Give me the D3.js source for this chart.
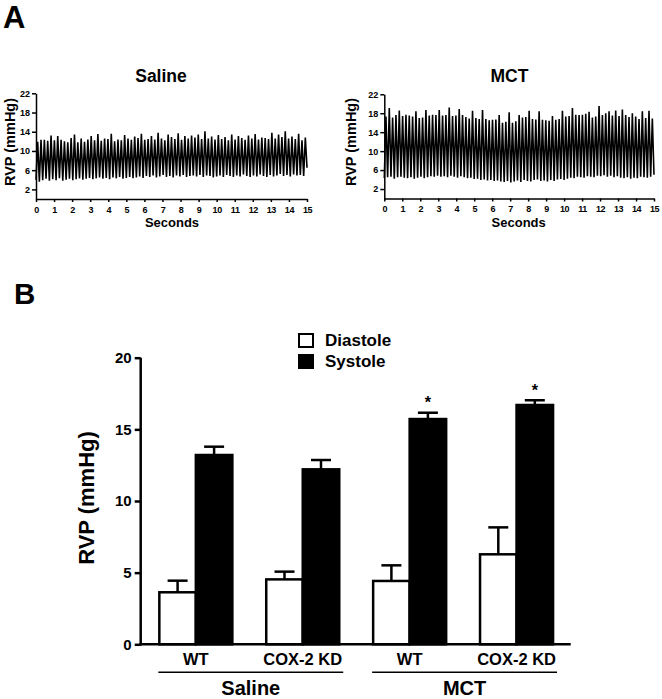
<!DOCTYPE html>
<html>
<head>
<meta charset="utf-8">
<script src="https://cdn.jsdelivr.net/npm/d3@7"></script>
<style>
  html, body { margin: 0; padding: 0; background: #fff; }
  svg { display: block; font-family: "Liberation Sans", Arial, Helvetica, sans-serif; font-weight: bold; }
</style>
</head>
<body>
<svg id="chart" width="662" height="699"></svg>
<script>
// ---------------- Panel A data: beat-by-beat RVP trace (mmHg) ----------------
const traceSeconds = [0, 15];
const traceTicksX = [0,1,2,3,4,5,6,7,8,9,10,11,12,13,14,15];
const traceTicksY = [2, 6, 10, 14, 18, 22];

// systolic peaks of each beat (Saline)
const salinePeaks = [
  11.9, 12.3, 12.3, 12.1, 13.2, 12.2, 13.1, 12.3, 12.0, 11.8, 12.7, 13.4, 11.8, 12.6, 11.9, 12.4,
  13.1, 12.2, 13.5, 12.1, 12.6, 12.5, 13.6, 12.0, 12.4, 12.2, 13.3, 12.6, 12.3, 13.0, 12.7, 13.6,
  12.3, 12.5, 13.1, 12.4, 13.8, 12.6, 12.2, 13.4, 12.9, 12.5, 13.7, 12.3, 13.1, 12.6, 13.2, 12.8,
  13.4, 12.5, 14.1, 12.6, 13.0, 12.4, 13.3, 12.5, 12.9, 12.2, 13.4, 12.4, 13.1, 12.7, 12.3, 13.2,
  12.6, 13.5, 12.4, 12.8, 12.7, 12.5, 13.8, 12.6, 13.4, 12.9, 14.1, 12.6, 13.0, 12.5, 13.6, 12.2, 12.8
];
// diastolic troughs of each beat (Saline), last value = end of record
const salineTroughs = [
  4.0, 3.6, 3.9, 4.2, 3.8, 4.1, 3.9, 4.3, 3.8, 4.0, 4.2, 3.9, 4.1, 4.3, 4.0, 4.2,
  4.4, 4.1, 4.3, 4.5, 4.2, 4.4, 4.1, 4.5, 4.3, 4.6, 4.2, 4.4, 4.6, 4.3, 4.5, 4.7,
  4.4, 4.8, 4.6, 4.9, 4.5, 4.7, 5.0, 4.6, 4.8, 4.5, 4.9, 4.7, 5.0, 4.6, 4.8, 4.9,
  4.7, 5.0, 4.6, 4.9, 4.8, 4.5, 4.7, 4.9, 4.6, 5.0, 4.8, 4.6, 4.9, 4.7, 5.1, 4.8,
  4.6, 4.9, 4.7, 5.1, 4.8, 4.6, 5.0, 4.7, 4.9, 5.2, 4.8, 5.0, 4.7, 5.1, 4.9, 5.0, 4.8, 6.5
];
// systolic peaks of each beat (MCT)
const mctPeaks = [
  17.3, 19.1, 17.1, 17.6, 18.6, 17.4, 17.7, 17.5, 17.3, 18.4, 17.0, 17.1, 18.7, 17.5, 17.7, 17.6,
  18.7, 17.5, 17.6, 19.2, 17.4, 17.5, 18.9, 17.6, 17.2, 16.9, 18.5, 17.0, 16.8, 18.7, 16.8, 16.5,
  16.6, 16.7, 17.6, 16.0, 16.2, 18.2, 16.0, 16.3, 17.6, 17.1, 17.2, 18.5, 16.8, 16.7, 18.4, 16.6,
  16.5, 16.4, 17.4, 16.6, 16.8, 18.5, 17.3, 17.4, 19.1, 17.7, 17.6, 17.7, 17.9, 18.3, 17.1, 17.3,
  19.5, 17.6, 18.0, 18.4, 17.5, 18.6, 17.4, 18.8, 17.6, 17.2, 18.0, 17.3, 16.8, 18.4, 17.0, 18.5, 16.9
];
// diastolic troughs of each beat (MCT), last value = end of record
const mctTroughs = [
  4.3, 4.5, 4.6, 4.2, 4.5, 4.6, 4.4, 4.3, 4.5, 4.2, 4.4, 4.6, 4.3, 4.5, 4.7, 4.6,
  4.8, 4.6, 4.7, 4.5, 4.8, 4.6, 4.4, 4.7, 4.5, 4.3, 4.4, 4.1, 4.2, 3.9, 4.0, 3.8,
  3.9, 3.7, 3.8, 3.6, 3.5, 3.7, 3.4, 3.6, 3.8, 3.5, 3.9, 3.7, 3.6, 3.9, 4.0, 3.7,
  3.8, 3.6, 3.9, 3.7, 4.0, 4.1, 3.9, 4.2, 4.4, 4.3, 4.6, 4.5, 4.4, 4.7, 4.6, 4.5,
  4.8, 4.7, 4.9, 4.6, 4.8, 4.5, 4.7, 4.4, 4.3, 4.5, 4.2, 4.4, 4.3, 4.6, 4.5, 4.4, 4.6, 5.0
];

// ---------------- Panel B data ----------------
const genotypes = ["WT", "COX-2 KD", "WT", "COX-2 KD"];
const treatments = ["Saline", "MCT"];
const treatmentOfBar = ["Saline", "Saline", "MCT", "MCT"];
const diastoleMean = [3.63, 4.53, 4.42, 6.28];
const diastoleSEM  = [0.81, 0.54, 1.09, 1.88];
const systoleMean  = [13.21, 12.21, 15.72, 16.70];
const systoleSEM   = [0.58, 0.65, 0.44, 0.33];
const systoleSignificant = [false, false, true, true];
const barTicksY = [0, 5, 10, 15, 20];
const legendLabels = ["Diastole", "Systole"];

const svg = d3.select("#chart");
const FONT = '"Liberation Sans", Arial, sans-serif';

// ---------------- Panel A ----------------
svg.append("text").attr("x", 3).attr("y", 28).attr("font-size", 31).text("A");

function tracePanel(cfg) {
  const x = d3.scaleLinear().domain(traceSeconds).range([cfg.x0, cfg.x1]);
  const y = d3.scaleLinear().domain([0, 22]).range([cfg.y0, cfg.y1]);
  const n = cfg.peaks.length;
  const period = (traceSeconds[1] - traceSeconds[0]) / n;
  const pts = [];
  for (let i = 0; i < n; i++) {
    pts.push([i * period, cfg.troughs[i]]);
    pts.push([(i + 0.5) * period, cfg.peaks[i]]);
  }
  pts.push([n * period, cfg.troughs[n]]);
  const g = svg.append("g");
  g.append("path")
    .datum(pts)
    .attr("fill", "none")
    .attr("stroke", "#000")
    .attr("stroke-width", 1.6)
    .attr("stroke-linejoin", "miter")
    .attr("d", d3.line().x(d => x(d[0])).y(d => y(d[1])));

  const ax = g.append("g").attr("transform", `translate(0,${cfg.y0})`)
    .call(d3.axisBottom(x).tickValues(traceTicksX).tickSize(3).tickSizeOuter(0).tickPadding(2));
  const ay = g.append("g").attr("transform", `translate(${cfg.x0},0)`)
    .call(d3.axisLeft(y).tickValues(traceTicksY).tickSize(4).tickSizeOuter(0).tickPadding(2));
  [ax, ay].forEach(a => {
    a.selectAll("path,line").attr("stroke", "#000").attr("stroke-width", 1.5);
    a.selectAll("text").attr("font-size", 9).attr("font-weight", "bold")
      .attr("font-family", FONT).attr("fill", "#000");
  });
  ax.selectAll("text").attr("dy", null).attr("y", 13.5).attr("letter-spacing", -0.4);

  g.append("text").attr("x", cfg.titleX).attr("y", 81.7).attr("text-anchor", "middle")
    .attr("font-size", 17.5).text(cfg.title);
  g.append("text").attr("x", cfg.secX).attr("y", 227).attr("text-anchor", "middle")
    .attr("font-size", 13).text("Seconds");
  g.append("text").attr("transform", `translate(${cfg.labX},142) rotate(-90)`)
    .attr("text-anchor", "middle").attr("font-size", 14.5).text("RVP (mmHg)");
}

tracePanel({ title: "Saline", peaks: salinePeaks, troughs: salineTroughs,
  x0: 36, x1: 307, y0: 199, y1: 93.3, titleX: 161, secX: 172, labX: 14.5 });
tracePanel({ title: "MCT", peaks: mctPeaks, troughs: mctTroughs,
  x0: 384.3, x1: 654, y0: 198.5, y1: 94.3, titleX: 509.5, secX: 518.7, labX: 356 });

// ---------------- Panel B ----------------
svg.append("text").attr("x", 14).attr("y", 304).attr("font-size", 29.5).text("B");

const bx0 = 140.7, bx1 = 570.7;
const yB = d3.scaleLinear().domain([0, 20]).range([644.3, 357.7]);
const xB = d3.scaleBand().domain(d3.range(genotypes.length)).range([bx0 + 1, bx1])
  .paddingInner(0.317).paddingOuter(0.165);
const half = xB.bandwidth() / 2;

const bars = svg.append("g");
const series = [
  { mean: diastoleMean, sem: diastoleSEM, fill: "#fff", off: 0 },
  { mean: systoleMean, sem: systoleSEM, fill: "#000", off: half }
];
series.forEach(s => {
  const gs = bars.append("g");
  gs.selectAll("line.err").data(s.mean).join("line")
    .attr("x1", (d, i) => xB(i) + s.off + half / 2)
    .attr("x2", (d, i) => xB(i) + s.off + half / 2)
    .attr("y1", d => yB(d))
    .attr("y2", (d, i) => yB(d + s.sem[i]))
    .attr("stroke", "#000").attr("stroke-width", 2.5);
  gs.selectAll("line.cap").data(s.mean).join("line")
    .attr("x1", (d, i) => xB(i) + s.off + half / 2 - 10)
    .attr("x2", (d, i) => xB(i) + s.off + half / 2 + 10)
    .attr("y1", (d, i) => yB(d + s.sem[i]))
    .attr("y2", (d, i) => yB(d + s.sem[i]))
    .attr("stroke", "#000").attr("stroke-width", 2.5);
  gs.selectAll("rect").data(s.mean).join("rect")
    .attr("x", (d, i) => xB(i) + s.off)
    .attr("y", d => yB(d))
    .attr("width", half)
    .attr("height", d => yB(0) - yB(d))
    .attr("fill", s.fill)
    .attr("stroke", "#000").attr("stroke-width", 2.5);
});

// significance stars
systoleMean.forEach((d, i) => {
  if (!systoleSignificant[i]) return;
  bars.append("text")
    .attr("x", xB(i) + half * 1.5)
    .attr("y", yB(d + systoleSEM[i]) - 4.4)
    .attr("text-anchor", "middle").attr("font-size", 16).text("*");
});

// axes
const ayB = svg.append("g").attr("transform", `translate(${bx0},0)`)
  .call(d3.axisLeft(yB).tickValues(barTicksY).tickSize(6).tickSizeOuter(0).tickPadding(3));
ayB.selectAll("path,line").attr("stroke", "#000").attr("stroke-width", 2.5);
ayB.selectAll("text").attr("font-size", 15).attr("font-weight", "bold")
  .attr("font-family", FONT).attr("fill", "#000");
ayB.select("path.domain").attr("d", `M0,${yB(0) + 1.25}V${yB(20)}`);

svg.append("line").attr("x1", bx0 - 1.25).attr("x2", bx1).attr("y1", yB(0)).attr("y2", yB(0))
  .attr("stroke", "#000").attr("stroke-width", 2.5);

svg.append("text").attr("transform", "translate(94,498) rotate(-90)")
  .attr("text-anchor", "middle").attr("font-size", 22).text("RVP (mmHg)");

// category labels
svg.selectAll("text.geno").data(genotypes).join("text")
  .attr("x", (d, i) => xB(i) + half)
  .attr("y", 665)
  .attr("text-anchor", "middle").attr("font-size", 16.5).text(d => d);

treatments.forEach(t => {
  const idx = treatmentOfBar.map((v, i) => v === t ? i : -1).filter(i => i >= 0);
  const xa = xB(idx[0]) - 1, xb = xB(idx[idx.length - 1]) + xB.bandwidth() + 4;
  svg.append("line").attr("x1", xa).attr("x2", xb).attr("y1", 672.3).attr("y2", 672.3)
    .attr("stroke", "#000").attr("stroke-width", 1.5);
  svg.append("text").attr("x", (xa + xb) / 2).attr("y", 695)
    .attr("text-anchor", "middle").attr("font-size", 20).text(t);
});

// legend
const legendFills = ["#fff", "#000"];
legendLabels.forEach((lab, i) => {
  svg.append("rect").attr("x", 299).attr("y", 334 + i * 21).attr("width", 14).attr("height", 13)
    .attr("fill", legendFills[i]).attr("stroke", "#000").attr("stroke-width", 2);
  svg.append("text").attr("x", 325).attr("y", 345.5 + i * 21).attr("font-size", 17).text(lab);
});
</script>
</body>
</html>
